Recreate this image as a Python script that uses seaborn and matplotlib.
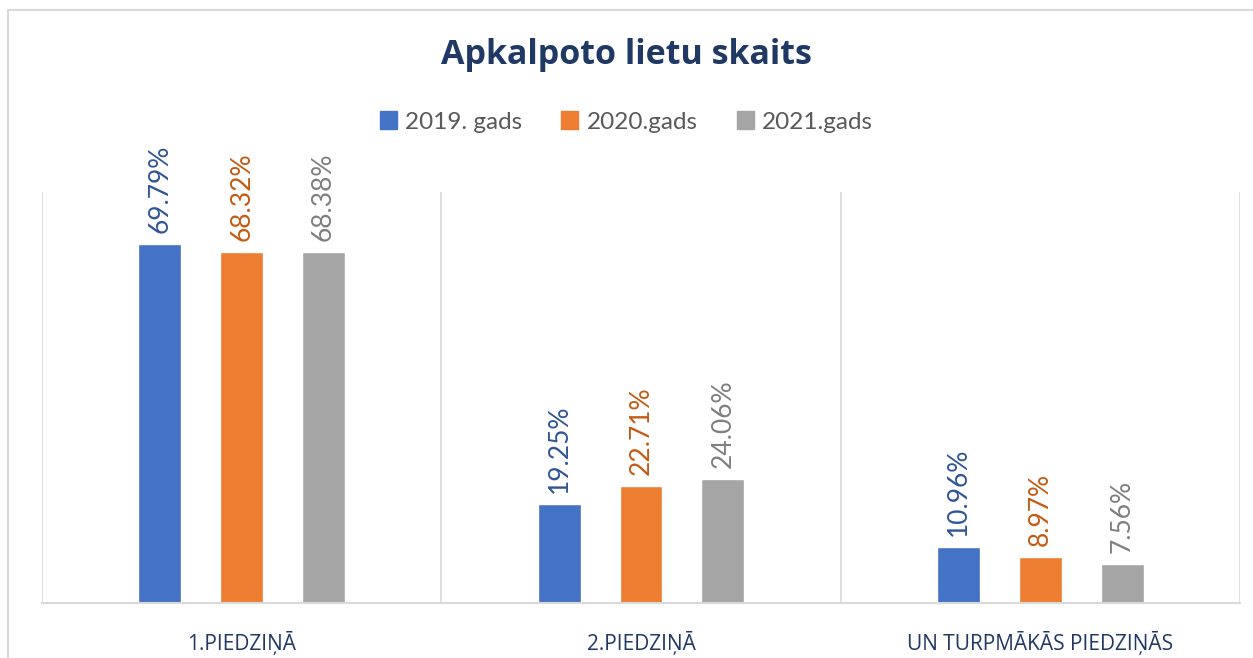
import pandas as pd
import matplotlib
matplotlib.use("Agg")
import matplotlib.pyplot as plt
import seaborn as sns
from matplotlib.patches import Rectangle

categories = ['1.PIEDZIŅĀ', '2.PIEDZIŅĀ', 'UN TURPMĀKĀS PIEDZIŅĀS']
years = ['2019. gads', '2020.gads', '2021.gads']
v2019 = [69.79, 19.25, 10.96]
v2020 = [68.32, 22.71, 8.97]
v2021 = [68.38, 24.06, 7.56]

bar_colors = ['#4472C4', '#ED7D31', '#A5A5A5']
label_colors = ['#2F5597', '#C55A11', '#7F7F7F']

df = pd.DataFrame({
    'kategorija': categories * 3,
    'gads': [y for y in years for _ in categories],
    'vertiba': v2019 + v2020 + v2021,
})

sns.set_style('white')
plt.rcParams['font.family'] = ['Lato', 'DejaVu Sans']

fig = plt.figure(figsize=(12.53, 6.58), dpi=100)
# chart frame like the Excel chart border
fig.patches.append(Rectangle((8 / 1253, -0.1), 1.2, 1 - 10 / 658 + 0.1,
                             transform=fig.transFigure, fill=False,
                             edgecolor='#D9D9D9', linewidth=1.5))

ax = fig.add_axes([42 / 1253, 55 / 658, 1198 / 1253, 411 / 658])
sns.barplot(data=df, x='kategorija', y='vertiba', hue='gads',
            palette=bar_colors, width=0.615, gap=0.476, ax=ax,
            legend=False, saturation=1)

ax.set_ylim(0, 80)
ax.set_xlim(-0.5, len(categories) - 0.5)
ax.set_yticks([])
ax.set_xlabel('')
ax.set_ylabel('')
for s in ['top', 'left', 'right']:
    ax.spines[s].set_visible(False)
ax.spines['bottom'].set_color('#D9D9D9')
ax.spines['bottom'].set_linewidth(1.5)
ax.vlines([i - 0.5 for i in range(len(categories) + 1)], 0, 80,
          colors='#D9D9D9', linewidth=1.2)

for cont, col in zip(ax.containers, label_colors):
    ax.bar_label(cont, labels=[f'{v:.2f}%' for v in cont.datavalues],
                 rotation=90, padding=8, color=col, fontsize=19)

ax.set_xticks(range(len(categories)))
ax.set_xticklabels(categories, fontsize=15, color='#1F3864',
                   family=['Open Sans', 'DejaVu Sans'])
ax.tick_params(axis='x', length=0, pad=20)

# legend
handles = [Rectangle((0, 0), 1, 1, color=c) for c in bar_colors]
fig.legend(handles, years, loc='center', bbox_to_anchor=(0.5, 1 - 122 / 658),
           ncol=3, frameon=False, fontsize=17.5, labelcolor='#595959',
           handlelength=0.7, handleheight=0.75, handletextpad=0.35,
           columnspacing=1.6)

fig.text(0.5, 1 - 55 / 658, 'Apkalpoto lietu skaits', ha='center', va='center',
         fontsize=24.5, fontweight='bold', color='#1F3864',
         family=['Open Sans', 'DejaVu Sans'])

fig.savefig('out.png', dpi=100)
